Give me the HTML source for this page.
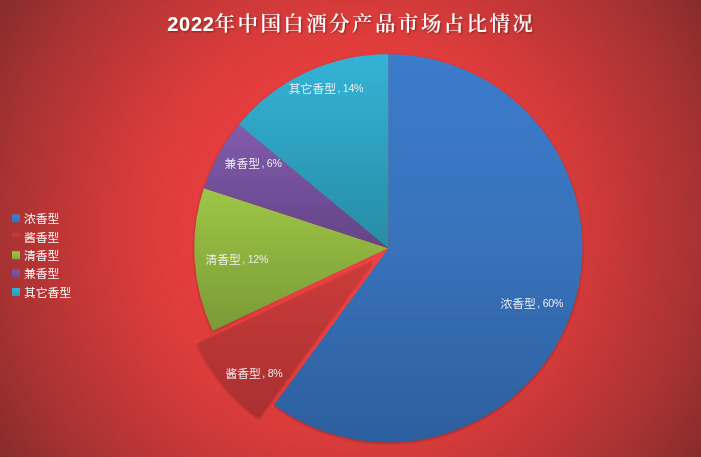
<!DOCTYPE html>
<html lang="zh-CN">
<head>
<meta charset="utf-8">
<title>2022年中国白酒分产品市场占比情况</title>
<style>
html,body{margin:0;padding:0;}
body{width:701px;height:457px;overflow:hidden;background:#872b2b;}
#chart{position:relative;width:701px;height:457px;overflow:hidden;
  background:radial-gradient(circle 418px at 350.5px 228.5px,#e63e3e 0%,#e53d3d 36%,#df3c3c 46%,#d33a3a 56%,#ca3838 62%,#bf3636 69%,#a73232 84%,#872b2b 100%);}
svg{position:absolute;left:0;top:0;display:block;}
.lbl{font-family:"Liberation Sans","Noto Sans CJK SC",sans-serif;font-size:11.8px;font-weight:350;fill:#f2f2f2;}
.lbl .n{font-size:10.6px;font-weight:400;fill:#e9e9e9;letter-spacing:-0.25px;}
.leg{font-family:"Liberation Sans","Noto Sans CJK SC",sans-serif;font-size:11.8px;font-weight:400;fill:#fbfbfb;}
.title .td{letter-spacing:0.7px;}
.title .tc{font-weight:600;font-size:20.5px;letter-spacing:2.4px;}
.title{font-family:"Liberation Sans","Noto Serif CJK SC",serif;font-weight:bold;font-size:20px;fill:#ffffff;letter-spacing:2.9px;}
</style>
</head>
<body>
<div id="chart">
<svg width="701" height="457" viewBox="0 0 701 457">
  <defs>
    <linearGradient id="gBlue" x1="0" y1="54.3" x2="0" y2="441.9" gradientUnits="userSpaceOnUse">
      <stop offset="0" stop-color="#3b7bcc"/><stop offset="0.5" stop-color="#3872ba"/><stop offset="1" stop-color="#2c5f9e"/>
    </linearGradient>
    <linearGradient id="gCyan" x1="0" y1="54.3" x2="0" y2="248.1" gradientUnits="userSpaceOnUse">
      <stop offset="0" stop-color="#33b3d6"/><stop offset="1" stop-color="#288ca6"/>
    </linearGradient>
    <linearGradient id="gPurple" x1="0" y1="124.6" x2="0" y2="248.1" gradientUnits="userSpaceOnUse">
      <stop offset="0" stop-color="#805cad"/><stop offset="1" stop-color="#644386"/>
    </linearGradient>
    <linearGradient id="gGreen" x1="0" y1="188.2" x2="0" y2="330.6" gradientUnits="userSpaceOnUse">
      <stop offset="0" stop-color="#9dc646"/><stop offset="1" stop-color="#7a9a36"/>
    </linearGradient>
    <linearGradient id="gRed" x1="0" y1="260.5" x2="0" y2="417.3" gradientUnits="userSpaceOnUse">
      <stop offset="0" stop-color="#cc3c3b"/><stop offset="1" stop-color="#a82f2f"/>
    </linearGradient>
    <linearGradient id="sw1" x1="0" y1="0" x2="0" y2="1"><stop offset="0" stop-color="#3f80d2"/><stop offset="1" stop-color="#3570ba"/></linearGradient>
    <linearGradient id="sw2" x1="0" y1="0" x2="0" y2="1"><stop offset="0" stop-color="#c93a3a"/><stop offset="1" stop-color="#ae3030"/></linearGradient>
    <linearGradient id="sw3" x1="0" y1="0" x2="0" y2="1"><stop offset="0" stop-color="#9bc445"/><stop offset="1" stop-color="#86aa3a"/></linearGradient>
    <linearGradient id="sw4" x1="0" y1="0" x2="0" y2="1"><stop offset="0" stop-color="#7e5aab"/><stop offset="1" stop-color="#6d4b94"/></linearGradient>
    <linearGradient id="sw5" x1="0" y1="0" x2="0" y2="1"><stop offset="0" stop-color="#33b2d5"/><stop offset="1" stop-color="#2b9aba"/></linearGradient>
    <radialGradient id="gGap" cx="388.35" cy="248.15" r="194.0" gradientUnits="userSpaceOnUse"><stop offset="0" stop-color="#f04242" stop-opacity="0.95"/><stop offset="0.6" stop-color="#ec4040" stop-opacity="0.8"/><stop offset="1" stop-color="#e63e3e" stop-opacity="0"/></radialGradient>
    <filter id="sh" x="-10%" y="-10%" width="120%" height="120%">
      <feGaussianBlur in="SourceAlpha" stdDeviation="1.7" result="b"/>
      <feOffset in="b" dx="0" dy="1.2" result="o"/>
      <feComponentTransfer in="o" result="s"><feFuncA type="linear" slope="0.33"/></feComponentTransfer>
      <feMerge><feMergeNode in="s"/><feMergeNode in="SourceGraphic"/></feMerge>
    </filter>
    <filter id="ts" x="-5%" y="-30%" width="110%" height="170%">
      <feGaussianBlur in="SourceAlpha" stdDeviation="1" result="b"/>
      <feOffset in="b" dx="0.5" dy="1" result="o"/>
      <feComponentTransfer in="o" result="s"><feFuncA type="linear" slope="0.4"/></feComponentTransfer>
      <feMerge><feMergeNode in="s"/><feMergeNode in="SourceGraphic"/></feMerge>
    </filter>
  </defs>

  <g filter="url(#sh)">
    <path d="M388.35 248.15L388.35 54.15A194.0 194.0 0 1 1 274.32 405.10Z" fill="url(#gBlue)"/>
    <path d="M388.35 248.15L212.81 330.75A194.0 194.0 0 0 1 203.85 188.20Z" fill="url(#gGreen)"/>
    <path d="M388.35 248.15L203.85 188.20A194.0 194.0 0 0 1 238.87 124.49Z" fill="url(#gPurple)"/>
    <path d="M388.35 248.15L238.87 124.49A194.0 194.0 0 0 1 388.35 54.15Z" fill="url(#gCyan)"/>
  </g>
  <path d="M388.35 248.15L274.32 405.10A194.0 194.0 0 0 1 212.81 330.75Z" fill="url(#gGap)"/>
  <g filter="url(#sh)">
    <path d="M372.63 261.15L258.60 418.10A194.0 194.0 0 0 1 197.10 343.75Z" fill="url(#gRed)"/>
  </g>

  <text class="title" x="167.3" y="31" filter="url(#ts)"><tspan class="td">2022</tspan><tspan class="tc">年中国白酒分产品市场占比情况</tspan></text>

  <text class="lbl" x="288.8" y="92.5">其它香型<tspan class="n" dx="1.4" dy="-0.4">, 14%</tspan></text>
  <text class="lbl" x="224.6" y="167.5">兼香型<tspan class="n" dx="1.4" dy="-0.4">, 6%</tspan></text>
  <text class="lbl" x="205.5" y="263.5">清香型<tspan class="n" dx="1.4" dy="-0.4">, 12%</tspan></text>
  <text class="lbl" x="225.5" y="377.5">酱香型<tspan class="n" dx="1.4" dy="-0.4">, 8%</tspan></text>
  <text class="lbl" x="500.5" y="307.8">浓香型<tspan class="n" dx="1.4" dy="-0.4">, 60%</tspan></text>

  <rect x="12" y="214.4" width="8" height="8" fill="url(#sw1)"/>
  <rect x="12" y="232.8" width="8" height="8" fill="url(#sw2)"/>
  <rect x="12" y="251.2" width="8" height="8" fill="url(#sw3)"/>
  <rect x="12" y="269.6" width="8" height="8" fill="url(#sw4)"/>
  <rect x="12" y="288.0" width="8" height="8" fill="url(#sw5)"/>
  <text class="leg" x="24" y="223.1">浓香型</text>
  <text class="leg" x="24" y="241.5">酱香型</text>
  <text class="leg" x="24" y="259.9">清香型</text>
  <text class="leg" x="24" y="278.3">兼香型</text>
  <text class="leg" x="24" y="296.7">其它香型</text>
</svg>
</div>
</body>
</html>
